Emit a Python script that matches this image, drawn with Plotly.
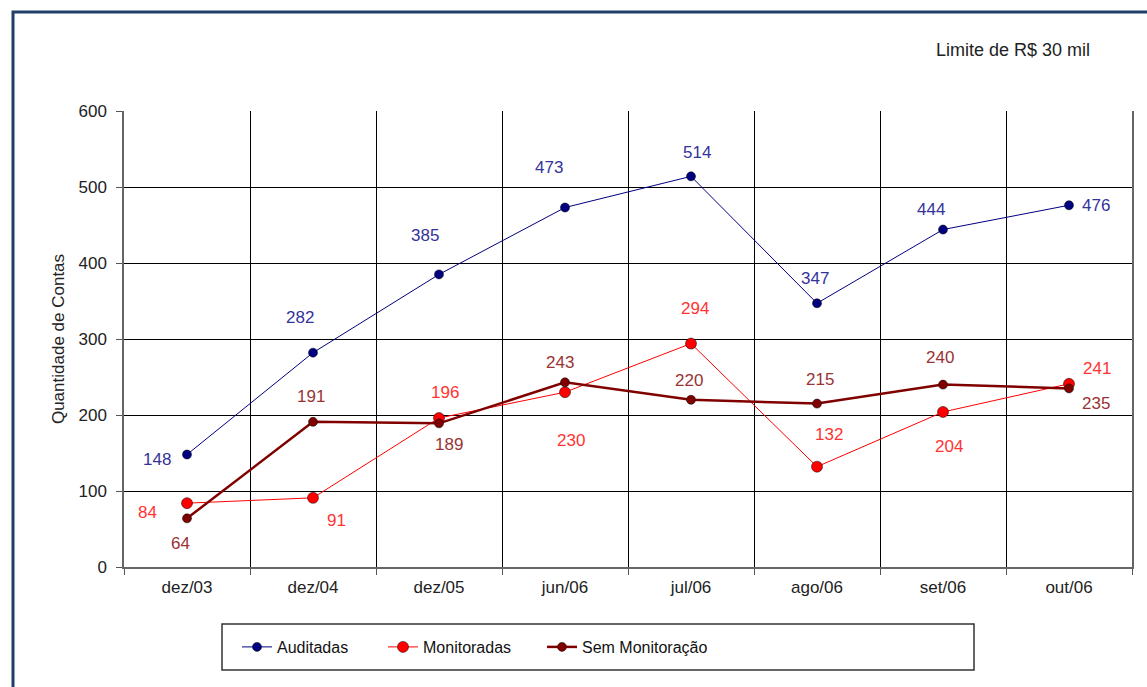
import plotly.graph_objects as go

categories = ["dez/03", "dez/04", "dez/05", "jun/06", "jul/06", "ago/06", "set/06", "out/06"]
auditadas = [148, 282, 385, 473, 514, 347, 444, 476]
monitoradas = [84, 91, 196, 230, 294, 132, 204, 241]
sem_monitoracao = [64, 191, 189, 243, 220, 215, 240, 235]
y_ticks = [0, 100, 200, 300, 400, 500, 600]

# label pixel offsets (dx, dy-up) per point
off_aud = [(-30, -5), (-13, 35), (-14, 39), (-16, 40), (6, 24), (-2, 25), (-12, 20), (27, 0)]
off_mon = [(-40, -9), (23, -23), (6, 26), (6, -48), (4, 35), (12, 32), (6, -35), (28, 15)]
off_sem = [(-7, -25), (-2, 25), (10, -21), (-5, 20), (-2, 19), (3, 24), (-3, 27), (27, -15)]

W, H = 1147, 687
L, R, T, B = 124, 15, 111, 120
pw, ph = W - L - R, H - T - B

def px_x(x):
    return (x - L) / pw

def px_y(y):
    return (H - B - y) / ph

FONT = "Liberation Sans, Arial, sans-serif"

series = [
    ("Auditadas", auditadas, "#000080", 1, 9, "#333399", off_aud, "legend", 237),
    ("Monitoradas", monitoradas, "#FF0000", 1, 11, "#FF3333", off_mon, "legend2", 383),
    ("Sem Monitoração", sem_monitoracao, "#800000", 2.5, 9, "#993333", off_sem, "legend3", 542),
]

fig = go.Figure()
annotations = []
legends = {}
for name, vals, color, lw, ms, tcolor, offs, lg, lgx in series:
    fig.add_trace(go.Scatter(
        x=categories, y=vals, name=name, mode="lines+markers",
        line=dict(color=color, width=lw),
        marker=dict(color=color, size=ms, symbol="circle",
                    line=dict(color="rgba(0,0,0,0.5)", width=1)),
        legend=lg,
    ))
    legends[lg] = dict(
        orientation="h", x=px_x(lgx), y=px_y(647), xanchor="left", yanchor="middle",
        font=dict(family=FONT, size=16, color="#111111"),
        bgcolor="rgba(0,0,0,0)", borderwidth=0,
    )
    for c, v, (dx, dy) in zip(categories, vals, offs):
        annotations.append(dict(
            x=c, y=v, xref="x", yref="y", text=str(v), showarrow=False,
            xshift=dx, yshift=dy, font=dict(family=FONT, size=17, color=tcolor),
        ))

annotations.append(dict(
    x=px_x(1013), y=px_y(50), xref="paper", yref="paper",
    text="Limite de R$ 30 mil", showarrow=False, xanchor="center", yanchor="middle",
    font=dict(family=FONT, size=18, color="#222222"),
))

shapes = [
    # outer frame (left and top visible)
    dict(type="rect", xref="paper", yref="paper",
         x0=px_x(13), x1=px_x(W + 40), y0=px_y(H + 40), y1=px_y(12),
         line=dict(color="#1F3F66", width=3), fillcolor="rgba(0,0,0,0)", layer="below"),
    # legend box
    dict(type="rect", xref="paper", yref="paper",
         x0=px_x(222), x1=px_x(974), y0=px_y(670), y1=px_y(624),
         line=dict(color="#333333", width=1.5), fillcolor="rgba(0,0,0,0)"),
]

fig.update_layout(
    width=W, height=H,
    margin=dict(l=L, r=R, t=T, b=B, pad=0),
    paper_bgcolor="white", plot_bgcolor="white",
    font=dict(family=FONT, size=17, color="#222222"),
    showlegend=True,
    annotations=annotations,
    shapes=shapes,
    **legends,
)

fig.update_xaxes(
    type="category", range=[-0.5, 7.5], tickson="boundaries",
    ticks="outside", ticklen=6, tickcolor="#555555",
    showgrid=True, gridcolor="#000000", gridwidth=1,
    showline=True, linecolor="#666666", linewidth=1.5, mirror=False,
    tickfont=dict(family=FONT, size=17, color="#222222"),
    ticklabelstandoff=4,
)
fig.update_yaxes(
    range=[0, 600], tickvals=y_ticks, ticktext=[str(t) for t in y_ticks],
    ticks="outside", ticklen=6, tickcolor="#555555",
    showgrid=True, gridcolor="#000000", gridwidth=1, zeroline=False,
    showline=True, linecolor="#666666", linewidth=1.5, mirror=True,
    tickfont=dict(family=FONT, size=17, color="#222222"),
    ticklabelstandoff=6,
    title=dict(text="Quantidade de Contas", standoff=10,
               font=dict(family=FONT, size=17, color="#222222")),
)

fig.write_html("out.html")
